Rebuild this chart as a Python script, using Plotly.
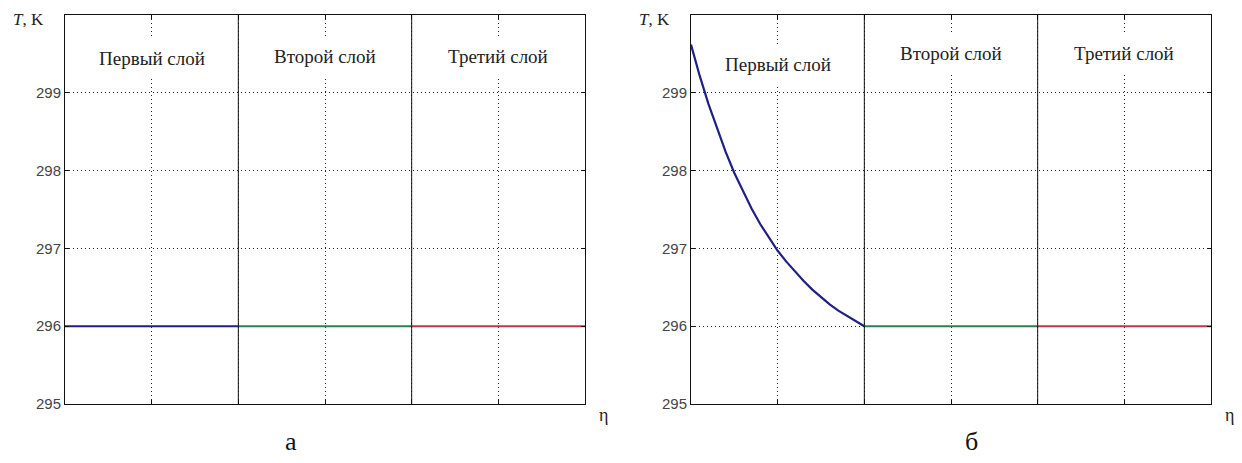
import plotly.graph_objects as go

# ---- data ----
layers = ["Первый слой", "Второй слой", "Третий слой"]
layer_bounds = [0, 1, 2, 3]
x_ticks = [0.5, 1, 1.5, 2, 2.5]
y_ticks = [295, 296, 297, 298, 299]
y_range = [295, 300]

# panel a: uniform temperature in all three layers
T_a = [296.0, 296.0, 296.0]

# panel б: first layer curve, then constant in layers 2, 3
eta_b1 = [0, 0.05, 0.1, 0.15, 0.2, 0.25, 0.3, 0.35, 0.4, 0.45, 0.5,
          0.55, 0.6, 0.65, 0.7, 0.75, 0.8, 0.85, 0.9, 0.95, 1.0]
T_b1 = [299.62, 299.22, 298.86, 298.54, 298.24, 297.97, 297.73, 297.51,
        297.31, 297.14, 296.97, 296.83, 296.70, 296.58, 296.47, 296.37,
        296.28, 296.20, 296.13, 296.06, 296.00]
T_b2 = 296.0
T_b3 = 296.0

colors = ["#1f1f86", "#2f7f52", "#c4324e"]

W, H = 1242, 463
HY = 455  # effective paper height used for vertical placement
fig = go.Figure()

# panel a
for i in range(3):
    fig.add_trace(go.Scatter(x=[layer_bounds[i], layer_bounds[i + 1]], y=[T_a[i], T_a[i]],
                             mode="lines", line=dict(color=colors[i], width=2),
                             xaxis="x", yaxis="y", showlegend=False))
# panel б
fig.add_trace(go.Scatter(x=eta_b1, y=T_b1, mode="lines", line=dict(color=colors[0], width=2.2),
                         xaxis="x2", yaxis="y2", showlegend=False))
fig.add_trace(go.Scatter(x=[layer_bounds[1], layer_bounds[2]], y=[T_b2, T_b2], mode="lines",
                         line=dict(color=colors[1], width=2), xaxis="x2", yaxis="y2", showlegend=False))
fig.add_trace(go.Scatter(x=[layer_bounds[2], layer_bounds[3]], y=[T_b3, T_b3], mode="lines",
                         line=dict(color=colors[2], width=2), xaxis="x2", yaxis="y2", showlegend=False))

ydom = [1 - 404 / HY, 1 - 15 / HY]
xdom1 = [65 / W, 585 / W]
xdom2 = [691 / W, 1211 / W]

common_x = dict(range=[0, 3], tickvals=x_ticks, showticklabels=False, ticks="inside", ticklen=4,
                tickcolor="#111", showgrid=True, gridcolor="#222", griddash="1px,3px", gridwidth=1,
                showline=True, linecolor="#111", linewidth=1, mirror="ticks", zeroline=False)
common_y = dict(range=y_range, tickvals=y_ticks, ticks="inside", ticklen=4, tickcolor="#111",
                showgrid=True, gridcolor="#222", griddash="1px,3px", gridwidth=1,
                showline=True, linecolor="#111", linewidth=1, mirror="ticks", zeroline=False,
                tickfont=dict(family="Liberation Sans", size=15, color="#444"))

fig.update_layout(
    width=W, height=H, margin=dict(l=0, r=0, t=0, b=0),
    paper_bgcolor="white", plot_bgcolor="white",
    xaxis=dict(domain=xdom1, anchor="y", **common_x),
    yaxis=dict(domain=ydom, anchor="x", **common_y),
    xaxis2=dict(domain=xdom2, anchor="y2", **common_x),
    yaxis2=dict(domain=ydom, anchor="x2", **common_y),
)

serif = "Liberation Serif"
label_y = {"x": [299.44, 299.47, 299.47], "x2": [299.37, 299.5, 299.5]}

# layer boundary lines and layer captions
for xa, ya in [("x", "y"), ("x2", "y2")]:
    for i, name in enumerate(layers):
        fig.add_annotation(xref=xa, yref=ya, x=(layer_bounds[i] + layer_bounds[i + 1]) / 2,
                           y=label_y[xa][i], text=name, showarrow=False,
                           xanchor="center", yanchor="middle",
                           bgcolor="white", borderpad=9,
                           font=dict(family=serif, size=19, color="#222"))
    for b in layer_bounds[1:3]:
        fig.add_shape(type="line", xref=xa, yref=ya, x0=b, x1=b, y0=y_range[0], y1=y_range[1],
                      line=dict(color="#111", width=1), layer="above")

for xd, lx, letter in [(xdom1, 291, "а"), (xdom2, 971, "б")]:
    fig.add_annotation(xref="paper", yref="paper", x=xd[0] - 37 / W, y=1 - 20 / HY,
                       text="<i>T</i>, K", showarrow=False, xanchor="center", yanchor="middle",
                       font=dict(family=serif, size=17, color="#222"))
    fig.add_annotation(xref="paper", yref="paper", x=xd[1] + 18 / W, y=1 - 415 / HY,
                       text="η", showarrow=False, xanchor="center", yanchor="middle",
                       font=dict(family=serif, size=18, color="#222"))
    fig.add_annotation(xref="paper", yref="paper", x=lx / W, y=1 - 441 / HY,
                       text=letter, showarrow=False, xanchor="center", yanchor="middle",
                       font=dict(family=serif, size=26, color="#111"))

fig.write_html("out.html")
